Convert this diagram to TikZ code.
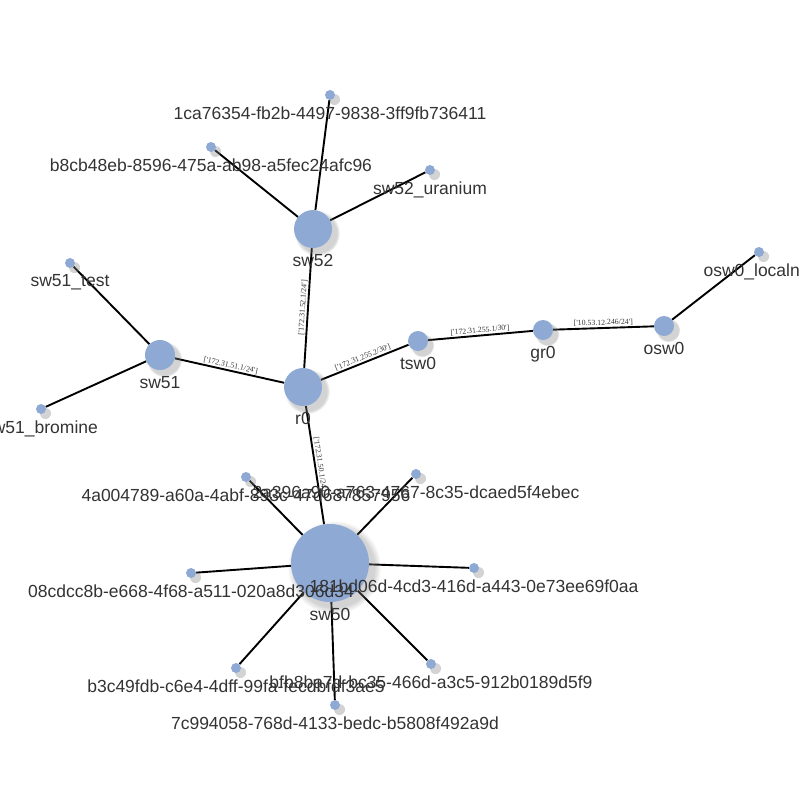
\documentclass[tikz,border=0pt]{standalone}
\usepackage{fontspec}
\setmainfont{Liberation Sans}
\newfontfamily\addrfont{Liberation Serif}
\usetikzlibrary{shadows, backgrounds}
\definecolor{devBlue}{RGB}{141,169,212}
\definecolor{labelGray}{RGB}{51,51,51}

\tikzset{
  dev/.style={circle, fill=devBlue, inner sep=0pt, minimum size=#1,
    circular drop shadow={shadow xshift=3.5pt, shadow yshift=-3.5pt, shadow scale=1.2, opacity=0.35}},
  devlabel/.style={text=labelGray, inner sep=0pt, label distance=6pt,
    font=\fontsize{17.5}{20}\selectfont},
  link/.style={line width=1.9pt},
  addr/.style={font=\addrfont\fontsize{7.8}{8}\selectfont, text=labelGray,
    midway, sloped, above, inner sep=1pt}
}

\begin{document}
\begin{tikzpicture}[x=1pt, y=-1pt]
\useasboundingbox (0,0) rectangle (800,800);

% switches and routers
\node[dev=38pt, label={[devlabel]below:r0}] (r0) at (303,387) {};
\node[dev=38pt, label={[devlabel]below:sw52}] (sw52) at (313,229) {};
\node[dev=30pt, label={[devlabel]below:sw51}] (sw51) at (160,355) {};
\node[dev=20pt, label={[devlabel]below:tsw0}] (tsw0) at (418,341) {};
\node[dev=20pt, label={[devlabel]below:gr0}] (gr0) at (543,330) {};
\node[dev=20pt, label={[devlabel]below:osw0}] (osw0) at (664,326) {};
\node[dev=78pt, label={[devlabel]below:sw50}] (sw50) at (330,563) {};

% uplinks
\begin{scope}[on background layer]
  \draw[link] (r0) -- node[addr] {['172.31.52.1/24']} (sw52);
  \draw[link] (r0) -- node[addr] {['172.31.51.1/24']} (sw51);
  \draw[link] (r0) -- node[addr] {['172.31.255.2/30']} (tsw0);
  \draw[link] (tsw0) -- node[addr] {['172.31.255.1/30']} (gr0);
  \draw[link] (gr0) -- node[addr] {['10.53.12.246/24']} (osw0);
  \draw[link] (r0) -- node[addr] {['172.31.50.1/24']} (sw50);
\end{scope}

% end hosts
\foreach \leaf/\pos/\txt/\hub in {
  h1ca7/{330,95}/1ca76354-fb2b-4497-9838-3ff9fb736411/sw52,
  hb8cb/{211,147}/b8cb48eb-8596-475a-ab98-a5fec24afc96/sw52,
  hura/{430,170}/sw52\_uranium/sw52,
  htest/{70,263}/sw51\_test/sw51,
  hbrom/{41,409}/sw51\_bromine/sw51,
  hlocal/{759,252}/osw0\_localnet/osw0,
  h4a00/{246,477}/4a004789-a60a-4abf-893c-47d687857956/sw50,
  h2a39/{416,474}/2a396a90-a763-4767-8c35-dcaed5f4ebec/sw50,
  h181b/{474,568}/181bd06d-4cd3-416d-a443-0e73ee69f0aa/sw50,
  h08cd/{191,573}/08cdcc8b-e668-4f68-a511-020a8d306d34/sw50,
  hb3c4/{236,668}/b3c49fdb-c6e4-4dff-99fa-fecdbfdf3ae5/sw50,
  hbfb8/{431,664}/bfb8ba7d-bc35-466d-a3c5-912b0189d5f9/sw50,
  h7c99/{335,705}/7c994058-768d-4133-bedc-b5808f492a9d/sw50}
{
  \node[dev=10pt, label={[devlabel]below:\txt}] (\leaf) at (\pos) {};
  \begin{pgfonlayer}{background}
    \draw[link] (\hub) -- (\leaf);
  \end{pgfonlayer}
}
\end{tikzpicture}
\end{document}
